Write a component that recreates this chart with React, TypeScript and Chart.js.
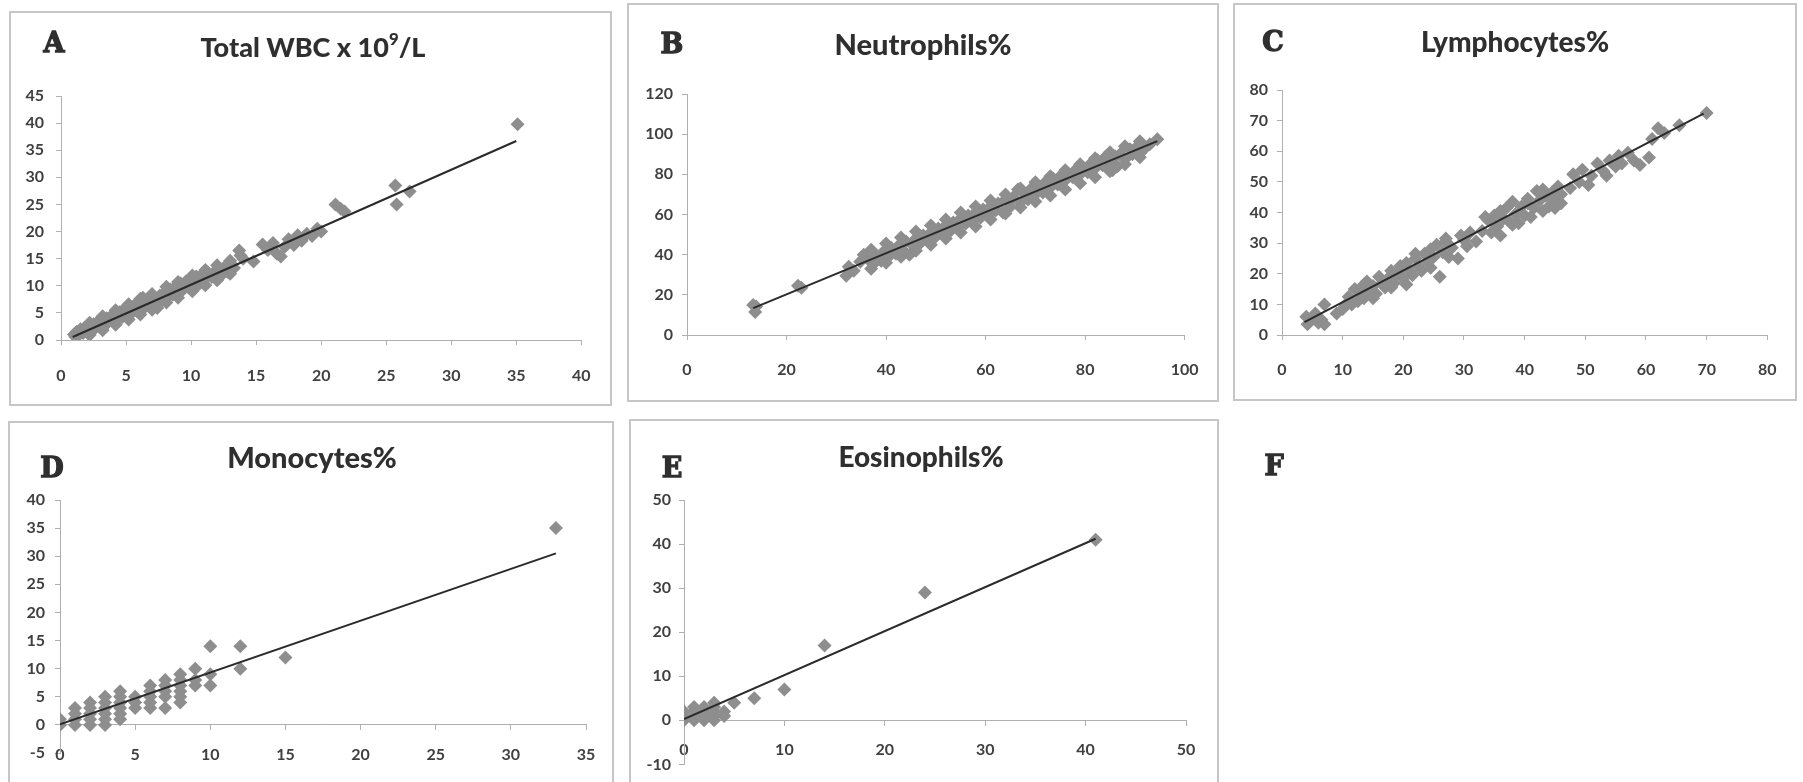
import React, { useEffect, useRef } from "react";
import { Chart, registerables } from "chart.js";

Chart.register(...registerables);

// ---------- A: Total WBC x 10^9/L ----------
const wbcX = [1.0,1.1,1.2,1.4,1.5,1.7,1.8,2.0,2.1,2.3,2.5,2.6,2.8,3.0,3.1,3.3,3.5,3.6,3.8,4.0,4.1,4.3,4.5,4.7,4.8,5.0,5.2,5.4,5.6,5.8,6.0,6.2,6.3,6.5,6.7,6.9,7.1,7.3,7.4,7.6,7.8,8.0,8.2,8.4,8.6,8.8,9.0,9.2,9.4,9.6,9.8,10.0,10.2,10.4,10.6,10.8,11.0,11.3,11.6,11.9,12.2,12.5,12.8,13.1,13.3,13.7,13.8,14.0,14.8,15.5,15.9,16.3,16.6,16.9,17.2,17.5,17.9,18.2,18.5,18.9,19.3,19.7,20.0,21.1,21.5,21.8,25.7,25.8,26.8,35.1,
  2.2,2.2,3.2,3.2,4.2,4.2,5.2,5.2,6.1,6.1,7.0,7.0,8.1,8.1,9.0,9.0,10.1,10.1,11.1,11.1,12.0,12.0,13.0,13.0];
const wbcY = [1.0,0.6,1.5,1.0,2.0,1.3,2.2,1.6,2.6,2.0,2.9,2.1,3.3,2.6,3.6,2.9,4.0,3.2,4.3,3.5,4.7,3.9,5.1,4.2,5.6,4.5,5.9,4.9,6.3,5.4,6.8,5.7,7.8,6.2,7.3,6.5,7.9,6.4,5.9,8.2,7.4,8.8,7.9,9.3,8.4,9.8,8.9,10.4,9.3,10.8,9.7,11.2,10.0,11.7,10.3,12.0,11.1,12.4,11.6,12.8,11.6,13.3,12.6,14.0,13.3,16.5,15.6,15.0,14.5,17.6,16.6,17.9,15.9,15.4,17.2,18.6,17.5,19.3,18.3,19.6,19.2,20.5,20.0,25.0,24.2,23.7,28.5,25.0,27.4,39.8,
  3.2,0.9,4.4,1.8,5.5,2.8,6.6,3.8,7.6,4.7,8.5,5.6,9.8,6.9,10.7,7.8,11.9,9.0,12.9,10.1,13.8,11.0,14.6,12.2];
const wbcTrendX = [0.9, 35.0];
const wbcTrendY = [0.55, 36.7];
const wbcXAxis = [0, 40, 5]; // min, max, step
const wbcYAxis = [0, 45, 5];

// ---------- B: Neutrophils% ----------
const neuX = [13.3,13.7,13.9,22.3,23.0,32.0,32.5,33.5,34.8,35.5,36.5,37.5,38.0,39.0,39.5,40.5,41.0,42.0,42.5,43.5,44.0,44.7,45.5,46.0,47.0,47.5,48.5,49.0,50.0,50.5,51.5,52.0,53.0,53.5,54.5,55.0,56.0,56.5,57.5,58.0,59.0,59.5,60.5,61.0,62.0,62.5,63.5,64.0,65.0,65.5,66.5,67.0,67.5,68.5,69.0,70.0,70.5,71.5,72.0,73.0,73.5,74.5,75.0,76.0,76.5,77.5,78.0,79.0,79.5,80.5,81.0,82.0,82.5,83.5,84.0,85.0,85.5,86.0,86.5,87.0,88.0,89.0,89.5,90.5,91.0,92.0,93.0,94.5,
  37.0,37.0,40.0,40.0,43.0,43.0,46.0,46.0,49.0,49.0,52.0,52.0,55.0,55.0,58.0,58.0,61.0,61.0,64.0,64.0,67.0,67.0,70.0,70.0,73.0,73.0,76.0,76.0,79.0,79.0,82.0,82.0,85.0,85.0,88.0,88.0,91.0,91.0];
const neuY = [15.0,11.5,14.2,24.5,23.5,29.5,34.0,32.0,36.5,40.0,37.5,35.5,39.5,37.0,41.5,39.0,43.5,40.5,44.5,42.0,46.5,40.0,44.5,48.0,46.0,49.5,47.0,51.0,49.0,53.0,50.5,54.5,52.0,56.0,54.0,58.0,55.5,59.5,57.0,61.0,58.5,62.5,60.0,64.0,62.0,65.5,61.0,67.5,64.0,68.5,72.5,66.0,71.0,67.5,72.5,70.0,74.0,71.0,76.0,73.5,78.0,75.0,79.0,77.0,80.5,78.5,82.0,80.0,83.5,81.0,85.0,83.0,87.0,84.5,88.5,86.5,82.0,89.0,84.0,90.0,87.5,92.5,90.0,94.0,90.5,93.0,95.0,97.5,
  42.5,33.0,45.5,36.0,48.5,39.0,51.5,42.0,54.5,45.0,57.5,48.0,61.0,51.0,64.0,54.0,67.0,57.5,70.0,60.5,73.0,63.5,76.0,66.5,79.0,69.5,82.0,72.5,85.0,75.5,88.0,78.5,91.0,81.5,94.0,85.0,96.5,88.5];
const neuTrendX = [13.3, 94.5];
const neuTrendY = [13.4, 96.5];
const neuXAxis = [0, 100, 20];
const neuYAxis = [0, 120, 20];

// ---------- C: Lymphocytes% ----------
const lymX = [4.0,4.2,4.8,5.5,6.0,6.5,7.0,7.0,9.0,10.0,10.5,11.0,11.5,12.0,12.5,13.0,13.5,14.0,14.5,15.0,15.5,16.0,16.5,17.0,17.5,18.0,18.5,19.0,19.5,20.0,20.5,21.0,21.5,22.0,22.5,23.0,23.5,24.0,24.5,25.0,25.5,26.0,26.5,27.0,27.5,28.0,29.0,29.5,30.0,31.0,32.0,33.0,34.0,34.5,35.0,35.5,36.0,36.5,37.0,37.5,38.0,38.5,39.0,39.5,40.0,40.5,41.0,41.5,42.0,42.5,43.0,43.5,44.0,44.5,45.0,45.5,46.0,46.0,47.5,48.0,49.0,49.5,50.5,51.0,52.0,53.0,53.5,54.0,55.0,55.5,56.0,57.0,58.0,59.0,60.5,61.0,62.0,63.0,65.5,70.0,
  13.5,15.0,18.0,20.5,22.0,24.5,27.0,30.5,33.5,36.0,38.0,40.5,43.0,45.0];
const lymY = [6.0,3.5,5.0,7.0,4.0,5.0,10.0,3.5,7.0,8.5,10.0,12.5,10.0,15.0,11.0,14.0,12.0,17.5,14.0,16.0,13.5,19.0,17.0,15.5,18.5,21.0,17.0,20.0,22.5,18.5,23.5,21.0,19.5,25.0,22.5,21.0,26.5,24.0,28.0,25.5,29.5,19.0,27.0,30.5,25.5,28.5,25.0,32.5,31.0,33.5,30.5,34.0,37.5,33.5,39.0,35.5,32.5,38.0,41.5,37.0,43.5,39.5,36.5,42.0,39.0,43.0,38.5,41.5,47.0,44.0,40.5,45.5,42.0,46.5,44.0,48.5,43.0,46.0,48.0,52.5,50.0,54.0,49.0,52.0,56.0,53.5,52.0,57.0,55.0,58.5,56.0,59.5,57.0,55.5,58.0,64.0,67.5,66.0,68.5,72.5,
  16.5,12.0,15.5,16.5,26.5,22.0,31.5,29.0,38.5,40.5,36.0,44.5,47.5,41.5];
const lymTrendX = [3.7, 69.5];
const lymTrendY = [4.2, 72.3];
const lymXAxis = [0, 80, 10];
const lymYAxis = [0, 80, 10];

// ---------- D: Monocytes% ----------
const monoX = [0,0, 1,1,1,1, 2,2,2,2,2, 3,3,3,3,3,3, 4,4,4,4,4,4, 5,5,5, 6,6,6,6,6, 7,7,7,7,7, 8,8,8,8,8,8, 9,9,9, 10,10,10, 12,12, 15, 33];
const monoY = [0,1, 0,1,2,3, 0,1,2,3,4, 0,1,2,3,4,5, 1,2,3,4,5,6, 3,4,5, 3,4,5,6,7, 3,5,6,7,8, 4,5,6,7,8,9, 7,8,10, 7,9,14, 10,14, 12, 35];
const monoTrendX = [0, 33];
const monoTrendY = [0.1, 30.5];
const monoXAxis = [0, 35, 5];
const monoYAxis = [-5, 40, 5];

// ---------- E: Eosinophils% ----------
const eosX = [0,0,0, 1,1,1,1, 2,2,2,2, 3,3,3,3,3, 4,4, 5, 7, 10, 14, 24, 41];
const eosY = [0,1,2, 0,1,2,3, 0,1,2,3, 0,1,2,3,4, 1,2, 4, 5, 7, 17, 29, 41];
const eosTrendX = [0, 41];
const eosTrendY = [0.3, 41.2];
const eosXAxis = [0, 50, 10];
const eosYAxis = [-10, 50, 10];

const PAGE_H = 782;
const AXIS_COLOR = "#b0b0b0";
const TICK_COLOR = "#404040";
const POINT_COLOR = "#8e8e8e";
const LINE_COLOR = "#2a2a2a";
const TICK_FONT = { family: "Lato", size: 16, weight: "bold" };

type Box = { l: number; t: number; r: number; b: number };
type Plot = { x0: number; x1: number; yTop: number; yBot: number };

type PanelProps = {
  box: Box;
  plot: Plot;
  xs: number[];
  ys: number[];
  tx: number[];
  ty: number[];
  xAxis: number[];
  yAxis: number[];
  yGap: number;
  xOff: number;
  xAtZero: boolean;
};

function ChartPanel(p: PanelProps) {
  const ref = useRef<HTMLCanvasElement | null>(null);
  const w = p.box.r - p.box.l;
  const h = Math.min(p.box.b, PAGE_H) - p.box.t;
  useEffect(() => {
    if (!ref.current) return;
    const pts = p.xs.map((x, i) => ({ x, y: p.ys[i] }));
    const trend = p.tx.map((x, i) => ({ x, y: p.ty[i] }));
    const yAxisW = p.plot.x0 - p.box.l;
    const xAxisH = p.box.b - p.plot.yBot;
    const chart = new Chart(ref.current, {
      type: "scatter",
      data: {
        datasets: [
          {
            data: trend,
            showLine: true,
            borderColor: LINE_COLOR,
            borderWidth: 2,
            pointRadius: 0,
            order: 0,
          } as any,
          {
            data: pts,
            pointStyle: "rectRot",
            pointRadius: 7,
            backgroundColor: POINT_COLOR,
            borderWidth: 0,
            order: 1,
          } as any,
        ],
      },
      options: {
        animation: false,
        responsive: false,
        devicePixelRatio: 1,
        events: [],
        plugins: { legend: { display: false }, tooltip: { enabled: false } },
        layout: {
          padding: {
            left: 0,
            top: p.plot.yTop - p.box.t,
            right: p.box.r - p.plot.x1,
            bottom: p.xAtZero ? PAGE_H - p.plot.yBot : 0,
          },
        },
        scales: {
          x: {
            type: "linear",
            position: p.xAtZero ? ({ y: 0 } as any) : "bottom",
            min: p.xAxis[0],
            max: p.xAxis[1],
            ticks: {
              stepSize: p.xAxis[2],
              autoSkip: false,
              maxRotation: 0,
              padding: p.xOff - 5 - 9.6,
              color: TICK_COLOR,
              font: TICK_FONT,
            },
            grid: { drawOnChartArea: false, drawTicks: true, tickLength: 5, color: AXIS_COLOR },
            border: { display: true, color: AXIS_COLOR, width: 1 },
            afterFit: (s: any) => {
              if (!p.xAtZero) s.height = xAxisH;
            },
          },
          y: {
            type: "linear",
            min: p.yAxis[0],
            max: p.yAxis[1],
            ticks: {
              stepSize: p.yAxis[2],
              autoSkip: false,
              padding: p.yGap - 5,
              color: TICK_COLOR,
              font: TICK_FONT,
            },
            grid: { drawOnChartArea: false, drawTicks: true, tickLength: 5, color: AXIS_COLOR },
            border: { display: true, color: AXIS_COLOR, width: 1 },
            afterFit: (s: any) => {
              s.width = yAxisW;
            },
          },
        },
      } as any,
    });
    return () => chart.destroy();
  }, []);
  return (
    <>
      <div
        style={{
          position: "absolute",
          left: p.box.l,
          top: p.box.t,
          width: w,
          height: p.box.b - p.box.t,
          border: "2px solid #c6c6c6",
          boxSizing: "border-box",
        }}
      />
      <canvas
        ref={ref}
        width={w}
        height={h}
        style={{ position: "absolute", left: p.box.l, top: p.box.t, width: w, height: h }}
      />
    </>
  );
}

function Label(props: { x: number; y: number; size?: number; children: React.ReactNode; kind: "title" | "letter" }) {
  const isTitle = props.kind === "title";
  const size = props.size ?? (isTitle ? 29 : 27);
  const capCenter = isTitle ? size * 0.528 : 13;
  return (
    <div
      style={{
        position: "absolute",
        left: props.x - 200,
        width: 400,
        top: props.y - capCenter,
        textAlign: "center",
        lineHeight: 1,
        whiteSpace: "nowrap",
        fontFamily: isTitle ? "Lato" : "'DejaVu Serif'",
        fontWeight: isTitle ? 900 : "bold",
        fontSize: size,
        color: "#2f2f2f",
        WebkitTextStroke: isTitle ? "0px" : "1.3px #2f2f2f",
      }}
    >
      {props.children}
    </div>
  );
}

export default function App() {
  useEffect(() => {
    document.body.style.margin = "0";
    document.documentElement.style.overflow = "hidden";
  }, []);
  return (
    <div
      style={{
        position: "absolute",
        left: 0,
        top: 0,
        width: 1803,
        height: PAGE_H,
        overflow: "hidden",
        background: "#ffffff",
      }}
    >
      <ChartPanel
        box={{ l: 9, t: 11, r: 612, b: 406 }}
        plot={{ x0: 61, x1: 589, yTop: 96, yBot: 340 }}
        xs={wbcX} ys={wbcY} tx={wbcTrendX} ty={wbcTrendY}
        xAxis={wbcXAxis} yAxis={wbcYAxis} yGap={17} xOff={36} xAtZero={false}
      />
      <ChartPanel
        box={{ l: 627, t: 3, r: 1219, b: 402 }}
        plot={{ x0: 687, x1: 1190, yTop: 94, yBot: 335 }}
        xs={neuX} ys={neuY} tx={neuTrendX} ty={neuTrendY}
        xAxis={neuXAxis} yAxis={neuYAxis} yGap={14} xOff={35} xAtZero={false}
      />
      <ChartPanel
        box={{ l: 1233, t: 3, r: 1797, b: 401 }}
        plot={{ x0: 1282, x1: 1775, yTop: 90, yBot: 335 }}
        xs={lymX} ys={lymY} tx={lymTrendX} ty={lymTrendY}
        xAxis={lymXAxis} yAxis={lymYAxis} yGap={14} xOff={35} xAtZero={false}
      />
      <ChartPanel
        box={{ l: 8, t: 421, r: 614, b: 800 }}
        plot={{ x0: 60, x1: 586, yTop: 500, yBot: 753 }}
        xs={monoX} ys={monoY} tx={monoTrendX} ty={monoTrendY}
        xAxis={monoXAxis} yAxis={monoYAxis} yGap={15} xOff={30} xAtZero={true}
      />
      <ChartPanel
        box={{ l: 629, t: 419, r: 1219, b: 800 }}
        plot={{ x0: 684, x1: 1186, yTop: 500, yBot: 767 }}
        xs={eosX} ys={eosY} tx={eosTrendX} ty={eosTrendY}
        xAxis={eosXAxis} yAxis={eosYAxis} yGap={13} xOff={30} xAtZero={true}
      />

      <Label kind="letter" x={54} y={42}>A</Label>
      <Label kind="letter" x={672} y={43}>B</Label>
      <Label kind="letter" x={1273} y={41}>C</Label>
      <Label kind="letter" x={52} y={467}>D</Label>
      <Label kind="letter" x={672} y={467}>E</Label>
      <Label kind="letter" x={1274} y={465}>F</Label>

      <Label kind="title" x={313} y={47} size={27}>
        Total WBC x 10
        <span style={{ fontSize: "0.62em", position: "relative", top: "-0.7em" }}>9</span>
        /L
      </Label>
      <Label kind="title" x={923} y={44}>Neutrophils%</Label>
      <Label kind="title" x={1515} y={42} size={28}>Lymphocytes%</Label>
      <Label kind="title" x={312} y={457}>Monocytes%</Label>
      <Label kind="title" x={921} y={457} size={28}>Eosinophils%</Label>
    </div>
  );
}
